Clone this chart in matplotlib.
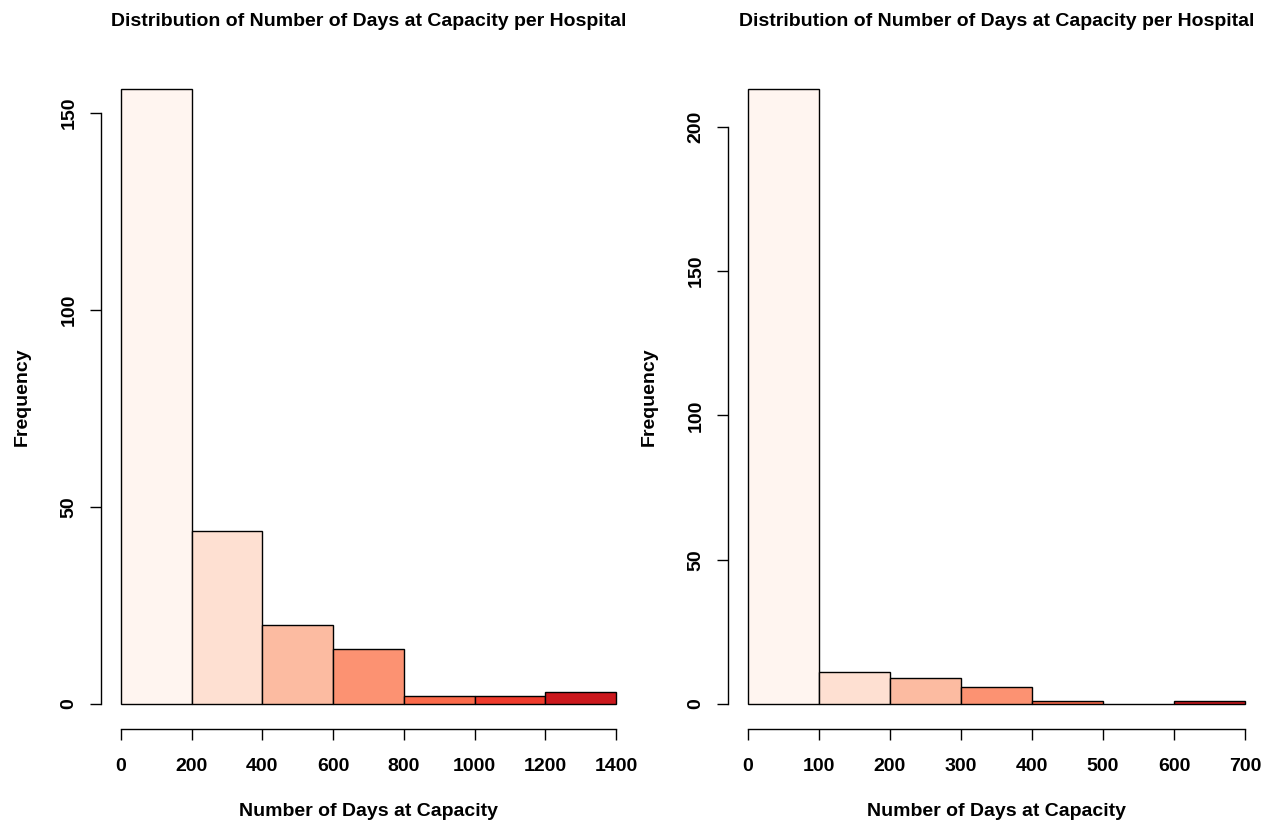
import matplotlib
matplotlib.use("Agg")
import matplotlib.pyplot as plt

plt.rcParams['font.family'] = ['Liberation Sans', 'DejaVu Sans']
plt.rcParams['font.weight'] = 'bold'

# left histogram: bins of 200 days
left_edges = [0, 200, 400, 600, 800, 1000, 1200, 1400]
left_counts = [156, 44, 20, 14, 2, 2, 3]
left_xticks = [0, 200, 400, 600, 800, 1000, 1200, 1400]
left_yticks = [0, 50, 100, 150]

# right histogram: bins of 100 days
right_edges = [0, 100, 200, 300, 400, 500, 600, 700]
right_counts = [213, 11, 9, 6, 1, 0, 1]
right_xticks = [0, 100, 200, 300, 400, 500, 600, 700]
right_yticks = [0, 50, 100, 150, 200]

reds = ['#FFF5F0', '#FEE0D2', '#FCBBA1', '#FC9272', '#FB6A4A', '#EF3B2C', '#CB181D']

title = 'Distribution of Number of Days at Capacity per Hospital'
xlab = 'Number of Days at Capacity'
ylab = 'Frequency'

W, H = 1271, 826
fig = plt.figure(figsize=(W / 100, H / 100), dpi=100)


def draw(rect, edges, counts, xticks, yticks):
    ax = fig.add_axes(rect)
    widths = [edges[i + 1] - edges[i] for i in range(len(counts))]
    ax.bar(edges[:-1], counts, width=widths, align='edge', color=reds,
           edgecolor='black', linewidth=1.0)
    # R style: 4% padding on both axes
    xr = edges[-1] - edges[0]
    ymax = max(counts)
    ax.set_xlim(edges[0] - 0.04 * xr, edges[-1] + 0.04 * xr)
    ax.set_ylim(-0.04 * ymax, ymax * 1.04)
    for s in ['top', 'right']:
        ax.spines[s].set_visible(False)
    ax.spines['left'].set_bounds(yticks[0], yticks[-1])
    ax.spines['bottom'].set_bounds(xticks[0], xticks[-1])
    for s in ['left', 'bottom']:
        ax.spines[s].set_linewidth(1.0)
    ax.set_xticks(xticks)
    ax.set_yticks(yticks)
    ax.set_xticklabels([str(v) for v in xticks], fontsize=14, fontweight='bold')
    ax.set_yticklabels([str(v) for v in yticks], fontsize=14, fontweight='bold',
                       rotation=90, va='center')
    ax.tick_params(axis='x', length=8, width=1.0, pad=13)
    ax.tick_params(axis='y', length=8, width=1.0, pad=9)
    pw = rect[2] * W
    ax.text(0.5, 1.0645, title, transform=ax.transAxes, ha='center', va='center',
            fontsize=14, fontweight='bold')
    ax.text(-79 / pw, 0.5, ylab, transform=ax.transAxes, ha='center', va='center',
            rotation=90, fontsize=14, fontweight='bold')
    ax.text(0.5, -0.125, xlab, transform=ax.transAxes, ha='center', va='center',
            fontsize=14, fontweight='bold')
    return ax


draw([101.2 / W, 97.4 / H, 534.6 / W, 663.8 / H],
     left_edges, left_counts, left_xticks, left_yticks)
draw([728.1 / W, 97.4 / H, 536.8 / W, 663.8 / H],
     right_edges, right_counts, right_xticks, right_yticks)

fig.savefig('out.png', dpi=100)
